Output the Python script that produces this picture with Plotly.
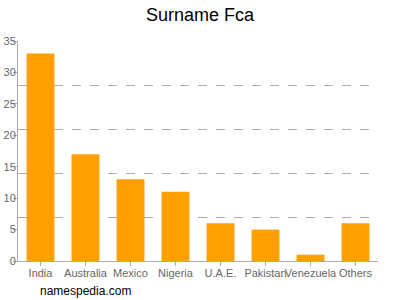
import plotly.graph_objects as go

countries = ["India", "Australia", "Mexico", "Nigeria", "U.A.E.", "Pakistan", "Venezuela", "Others"]
counts = [33, 17, 13, 11, 6, 5, 1, 6]
title_text = "Surname Fca"
source_text = "namespedia.com"

fig = go.Figure()
fig.add_trace(go.Bar(x=countries, y=counts, marker=dict(color="#FFA000", line=dict(width=0)),
                     width=0.62, yaxis="y"))
fig.add_trace(go.Scatter(x=countries, y=counts, yaxis="y2", mode="none", showlegend=False, hoverinfo="skip"))

L, R = 18, 22
fig.update_layout(
    width=400, height=300,
    margin=dict(l=L, r=R, t=41, b=39, autoexpand=False),
    paper_bgcolor="white", plot_bgcolor="white",
    showlegend=False,
    font=dict(family="Liberation Sans, Arial, sans-serif", color="#666666", size=11),
    title=dict(text=title_text, x=0.5, xanchor="center", y=0.95, yanchor="middle",
               font=dict(size=18, color="#000000")),
    xaxis=dict(showline=True, linecolor="#aaaaaa", linewidth=1, ticks="outside", ticklen=4,
               tickcolor="#aaaaaa", showgrid=False, tickfont=dict(size=11, color="#666666"),
               range=[-0.5, 7.5], tickangle=0, automargin=False, ticklabelstandoff=-2),
    yaxis=dict(range=[0, 35], dtick=5, showgrid=False, showline=True, linecolor="#aaaaaa",
               ticks="outside", ticklen=4, tickcolor="#aaaaaa", zeroline=False,
               tickfont=dict(size=11, color="#666666"), automargin=False,
               ticklabelstandoff=-5),
    yaxis2=dict(range=[0, 35], dtick=7, overlaying="y", showgrid=True, gridcolor="#aaaaaa",
                griddash="dash", gridwidth=1, showticklabels=False, zeroline=False, showline=False,
                automargin=False),
    annotations=[dict(text=source_text, xref="paper", yref="paper", x=(38 - L) / (400 - L - R), y=-0.135,
                      xanchor="left", yanchor="middle", showarrow=False,
                      font=dict(size=12, color="#000000"))],
)
fig.write_html("out.html")
